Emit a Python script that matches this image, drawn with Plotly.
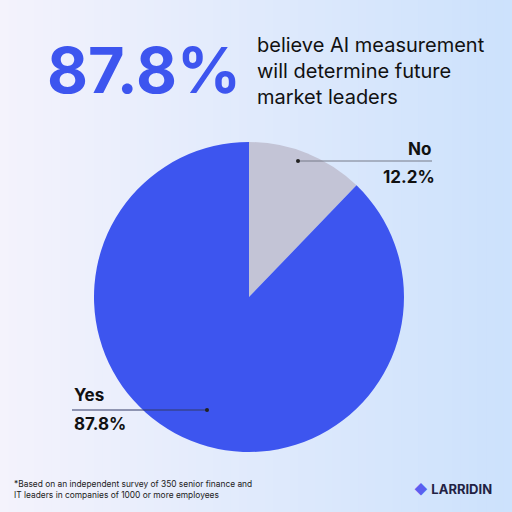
import plotly.graph_objects as go

labels = ["No", "Yes"]
values = [12.2, 87.8]
colors = ["#c3c4d6", "#3d55ef"]

fig = go.Figure()

# background gradient, lavender to light blue
n = 60
for i in range(n):
    t = i / (n - 1)
    r = int(244 + (205 - 244) * t)
    g = int(243 + (226 - 243) * t)
    b = int(252 + (253 - 252) * t)
    fig.add_shape(type="rect", xref="paper", yref="paper", x0=i / n, x1=(i + 1) / n + 0.002,
                  y0=0, y1=1, line_width=0, fillcolor=f"rgb({r},{g},{b})", layer="below")

fig.add_trace(go.Pie(labels=labels, values=values, sort=False, direction="clockwise",
                     rotation=0, marker=dict(colors=colors, line=dict(width=0)),
                     textinfo="none", hoverinfo="label+percent", showlegend=False,
                     domain=dict(x=[94 / 512, 404 / 512], y=[1 - 452 / 512, 1 - 142 / 512])))

def px(x, y):
    return x / 512, 1 - y / 512

font = "Inter, Roboto, sans-serif"
x, y = px(45, 70)
fig.add_annotation(x=x, y=y, text="<b>87.8%</b>", showarrow=False, xanchor="left", yanchor="middle",
                   font=dict(family=font, size=63, color="#3d55ef"))
x, y = px(255, 71)
fig.add_annotation(x=x, y=y, text="believe AI measurement<br>will determine future<br>market leaders",
                   showarrow=False, xanchor="left", yanchor="middle", align="left",
                   font=dict(family=font, size=20, color="#111111"))

# slice labels with leader lines
fig.add_shape(type="line", xref="paper", yref="paper", x0=px(298, 161)[0], y0=px(298, 161)[1],
              x1=px(432, 161)[0], y1=px(432, 161)[1], line=dict(color="#777a88", width=1))
fig.add_shape(type="circle", xref="paper", yref="paper", x0=px(296, 159)[0], y0=px(296, 159)[1],
              x1=px(300, 163)[0], y1=px(300, 163)[1], fillcolor="#222", line_width=0)
fig.add_shape(type="line", xref="paper", yref="paper", x0=px(72, 410)[0], y0=px(72, 410)[1],
              x1=px(207, 410)[0], y1=px(207, 410)[1], line=dict(color="#333a66", width=1))
fig.add_shape(type="circle", xref="paper", yref="paper", x0=px(205, 408)[0], y0=px(205, 408)[1],
              x1=px(209, 412)[0], y1=px(209, 412)[1], fillcolor="#222", line_width=0)

for txt, (ax, ay), anc in [(f"<b>{labels[0]}</b>", (433, 149), "right"),
                           (f"<b>{values[0]}%</b>", (437, 177), "right"),
                           (f"<b>{labels[1]}</b>", (72, 395), "left"),
                           (f"<b>{values[1]}%</b>", (72, 424), "left")]:
    x, y = px(ax, ay)
    fig.add_annotation(x=x, y=y, text=txt, showarrow=False, xanchor=anc, yanchor="middle",
                       font=dict(family=font, size=17, color="#111111"))

x, y = px(12, 489)
fig.add_annotation(x=x, y=y, text="*Based on an independent survey of 350 senior finance and<br>IT leaders in companies of 1000 or more employees",
                   showarrow=False, xanchor="left", yanchor="middle", align="left",
                   font=dict(family=font, size=8.4, color="#222222"))
x, y = px(412, 489)
fig.add_annotation(x=x, y=y, text="<span style='color:#5b5ff0'>◆</span> <b>LARRIDIN</b>", showarrow=False,
                   xanchor="left", yanchor="middle",
                   font=dict(family=font, size=13, color="#222244"))

fig.update_layout(width=512, height=512, margin=dict(l=0, r=0, t=0, b=0),
                  paper_bgcolor="#e6eefc")
fig.write_html("out.html", config={"displayModeBar": False},
               post_script="document.body.style.margin='0';document.body.style.overflow='hidden';")
